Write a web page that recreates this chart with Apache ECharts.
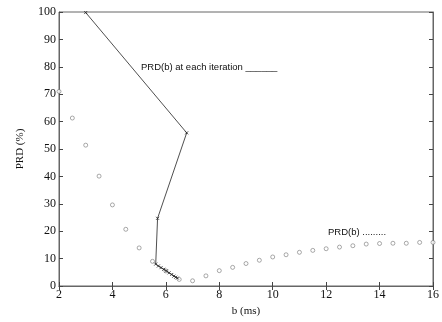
<!DOCTYPE html>
<html>
<head>
<meta charset="utf-8">
<script src="https://cdn.jsdelivr.net/npm/echarts@6/dist/echarts.min.js"></script>
<style>
  html, body { margin: 0; padding: 0; background: #fff; }
  #chart { width: 442px; height: 322px; }
</style>
</head>
<body>
<div id="chart"></div>
<script>
// PRD(b) sampled over b (ms)
const bValues = [2, 2.5, 3, 3.5, 4, 4.5, 5, 5.5, 6, 6.5, 7, 7.5, 8, 8.5, 9, 9.5,
  10, 10.5, 11, 11.5, 12, 12.5, 13, 13.5, 14, 14.5, 15, 15.5, 16];
const prdValues = [71, 61.3, 51.4, 40.1, 29.6, 20.7, 13.9, 9.0, 5.5, 2.4, 1.9, 3.7, 5.6, 6.8,
  8.2, 9.4, 10.6, 11.4, 12.3, 13.0, 13.6, 14.2, 14.7, 15.3, 15.5, 15.6, 15.6, 15.9, 15.9];

// PRD(b) at each iteration
const iterB = [3, 6.78, 5.69, 5.62, 5.72, 5.82, 5.92, 6.02, 6.12, 6.22, 6.3, 6.37, 6.43];
const iterPrd = [99.8, 55.9, 24.7, 8.0, 7.3, 6.7, 6.1, 5.5, 4.8, 4.2, 3.6, 3.2, 2.9];

const xTicks = { min: 2, max: 16, interval: 2 };
const yTicks = { min: 0, max: 100, interval: 10 };

const chart = echarts.init(document.getElementById('chart'));

const serif = 'Liberation Serif';
const axisCommon = {
  axisLine: { show: true, lineStyle: { color: '#666', width: 1 } },
  axisTick: { show: true, inside: true, length: 4, lineStyle: { color: '#444' } },
  splitLine: { show: false },
};

chart.setOption({
  animation: false,
  grid: { left: 59, right: 6, top: 12, bottom: 35, show: true, borderColor: '#666', borderWidth: 1 },
  xAxis: [
    Object.assign({
      type: 'value', min: xTicks.min, max: xTicks.max, interval: xTicks.interval,
      name: 'b (ms)', nameLocation: 'middle', nameGap: 20,
      nameTextStyle: { fontFamily: serif, fontSize: 11, color: '#111' },
      axisLabel: { fontFamily: serif, fontSize: 12, color: '#111', margin: 3 },
    }, axisCommon),
    Object.assign({
      type: 'value', position: 'top', min: xTicks.min, max: xTicks.max, interval: xTicks.interval,
      axisLabel: { show: false },
    }, axisCommon),
  ],
  yAxis: [
    Object.assign({
      type: 'value', min: yTicks.min, max: yTicks.max, interval: yTicks.interval,
      name: 'PRD (%)', nameLocation: 'middle', nameGap: 33,
      nameTextStyle: { fontFamily: serif, fontSize: 11, color: '#111' },
      axisLabel: { fontFamily: serif, fontSize: 12, color: '#111', margin: 3 },
    }, axisCommon),
    Object.assign({
      type: 'value', position: 'right', min: yTicks.min, max: yTicks.max, interval: yTicks.interval,
      axisLabel: { show: false },
    }, axisCommon),
  ],
  series: [
    {
      name: 'PRD(b)',
      type: 'scatter',
      data: bValues.map((b, i) => [b, prdValues[i]]),
      symbol: 'circle',
      symbolSize: 4,
      itemStyle: { color: '#fff', borderColor: '#666', borderWidth: 0.7 },
      z: 3,
    },
    {
      name: 'PRD(b) at each iteration',
      type: 'line',
      data: iterB.map((b, i) => [b, iterPrd[i]]),
      symbol: 'path://M0,0L10,10M10,0L0,10',
      symbolSize: 3,
      showSymbol: true,
      itemStyle: { color: '#222', borderColor: '#222', borderWidth: 0.8 },
      lineStyle: { color: '#222', width: 0.8 },
      z: 4,
    },
  ],
  graphic: [
    {
      type: 'text', left: 141, top: 62,
      style: { text: 'PRD(b) at each iteration ______', fontFamily: 'Liberation Sans', fontSize: 9.5, fill: '#111' },
    },
    {
      type: 'text', left: 328, top: 227,
      style: { text: 'PRD(b) .........', fontFamily: 'Liberation Sans', fontSize: 9.5, fill: '#111' },
    },
  ],
});
</script>
</body>
</html>
